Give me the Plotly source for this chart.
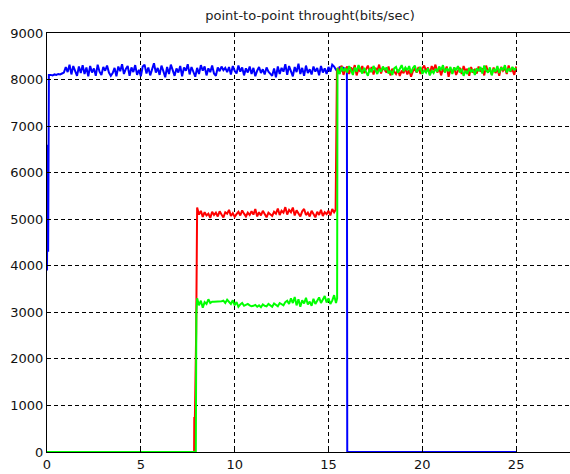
import numpy as np
import plotly.graph_objects as go

# ---------------- data ----------------
# blue flow
blue_start_t = [0.0, 0.03, 0.06, 0.1]
blue_start_v = [3900, 6600, 4300, 8100]
blue_noise_v = [
    8100, 8090, 8110, 8100, 8120, 8110, 8130, 8150,
    8270, 8160, 8320, 8110, 8290, 8190, 8080, 8280, 8140, 8310,
    8120, 8260, 8070, 8290, 8150, 8240, 8080, 8320, 8170, 8100,
    8270, 8190, 8300, 8150, 8080, 8140, 8250, 8070, 8280, 8180,
    8330, 8120, 8230, 8290, 8080, 8260, 8160, 8310, 8100, 8210,
    8070, 8280, 8320, 8130, 8260, 8090, 8210, 8350, 8150, 8250,
    8100, 8300, 8180, 8050, 8270, 8120, 8320, 8170, 8080, 8240,
    8150, 8290, 8070, 8260, 8190, 8330, 8110, 8270, 8170, 8060,
    8250, 8120, 8310, 8190, 8280, 8090, 8240, 8160, 8300, 8130,
    8080, 8260, 8180, 8280, 8200, 8250, 8160, 8270, 8110, 8290,
    8190, 8130, 8300, 8170, 8260, 8090, 8240, 8150, 8280, 8120,
    8250, 8070, 8190, 8270, 8140, 8220, 8110, 8260, 8170, 8130,
    8080, 8240, 8050, 8280, 8120, 8250, 8170, 8330, 8100, 8290,
    8190, 8070, 8270, 8160, 8340, 8120, 8250, 8080, 8300, 8140,
    8220, 8110, 8280, 8170, 8250, 8090, 8290, 8150, 8240, 8120,
    8270, 8170, 8320, 8280, 8210, 8160, 8280, 8200, 8250, 8230,
]
blue_noise_t = np.round(np.arange(0.2, 15.95, 0.1), 2).tolist()
blue_tail_t = [15.98, 16.0, 25.0]
blue_tail_v = [8200, 0, 0]

# red flow
red_start_t = [0.0, 7.84, 7.85, 7.87, 7.95, 7.97, 8.0]
red_start_v = [0, 0, 750, 450, 2600, 3900, 5250]
red_mid_v = [
    5100, 5180, 5050, 5150, 5080, 5120, 5030, 5160, 5090,
    5140, 5060, 5170, 5100, 5040, 5150, 5120, 5200, 5070, 5130,
    5050, 5110, 5160, 5080, 5190, 5120, 5060, 5140, 5090, 5170,
    5100, 5220, 5060, 5150, 5080, 5180, 5110, 5040, 5140, 5100,
    5070, 5160, 5120, 5230, 5090, 5180, 5140, 5260, 5100, 5200,
    5150, 5250, 5080, 5190, 5120, 5060, 5170, 5220, 5090, 5140,
    5060, 5180, 5110, 5040, 5160, 5090, 5200, 5070, 5150, 5110,
    5180, 5080, 5220, 5150,
]
red_mid_t = np.round(np.arange(8.1, 15.35, 0.1), 2).tolist()
red_jump_t = [15.38, 15.4, 15.45]
red_jump_v = [5200, 6300, 8200]
red_high_v = [
    8250, 8150, 8300, 8100, 8220,
    8280, 8120, 8260, 8180, 8310, 8090, 8240, 8170, 8290, 8140,
    8230, 8300, 8160, 8270, 8110, 8250, 8190, 8320, 8130, 8260,
    8200, 8150, 8280, 8090, 8230, 8170, 8120, 8210, 8080, 8190,
    8140, 8250, 8110, 8200, 8060, 8180, 8230, 8150, 8270, 8120,
    8240, 8300, 8180, 8260, 8110, 8290, 8200, 8320, 8150, 8250,
    8090, 8230, 8170, 8280, 8060, 8210, 8140, 8260, 8100, 8190,
    8250, 8120, 8290, 8180, 8230, 8080, 8270, 8150, 8210, 8130,
    8280, 8170, 8240, 8090, 8300, 8160, 8220, 8110, 8260, 8140,
    8230, 8080, 8270, 8190, 8250, 8120, 8300, 8170, 8220, 8100, 8280,
]
high_t = np.round(np.arange(15.5, 25.05, 0.1), 2).tolist()

# green flow
green_start_t = [0.0, 7.93, 7.96, 8.0]
green_start_v = [0, 0, 3000, 3300]
green_mid_v = [
    3150, 3250, 3100, 3220, 3180, 3280, 3200, 3230, 3230,
    3230, 3230, 3230, 3240, 3250, 3200, 3270, 3220, 3180, 3260,
    3150, 3220, 3120, 3170, 3200, 3140, 3160, 3180, 3150, 3130,
    3140, 3160, 3120, 3150, 3110, 3170, 3140, 3130, 3180, 3150,
    3120, 3190, 3160, 3130, 3200, 3170, 3150, 3220, 3250, 3180,
    3300, 3200, 3330, 3150, 3280, 3120, 3260, 3190, 3310, 3170,
    3230, 3140, 3290, 3180, 3250, 3320, 3200, 3280, 3350, 3210,
    3300, 3180, 3250, 3370, 3200,
]
green_mid_t = np.round(np.arange(8.1, 15.45, 0.1), 2).tolist()
green_jump_t = [15.46, 15.48]
green_jump_v = [3300, 8250]
green_high_v = [
    8200, 8120, 8270, 8180, 8240,
    8150, 8290, 8200, 8100, 8260, 8170, 8310, 8220, 8130, 8250,
    8180, 8080, 8240, 8160, 8290, 8200, 8120, 8230, 8170, 8280,
    8210, 8260, 8130, 8190, 8100, 8240, 8270, 8150, 8230, 8310,
    8180, 8260, 8200, 8290, 8140, 8250, 8300, 8160, 8220, 8270,
    8120, 8200, 8150, 8240, 8090, 8190, 8140, 8230, 8170, 8280,
    8200, 8310, 8150, 8240, 8180, 8270, 8120, 8260, 8200, 8290,
    8150, 8230, 8080, 8190, 8120, 8250, 8160, 8220, 8100, 8240,
    8180, 8270, 8130, 8300, 8200, 8150, 8260, 8090, 8230, 8170,
    8290, 8140, 8260, 8200, 8310, 8150, 8240, 8180, 8270, 8210, 8250,
]

x_ticks = [0, 5, 10, 15, 20, 25]
y_ticks = [0, 1000, 2000, 3000, 4000, 5000, 6000, 7000, 8000, 9000]
title_text = "point-to-point throught(bits/sec)"

# ---------------- figure ----------------
blue_t = blue_start_t + blue_noise_t + blue_tail_t
blue_v = blue_start_v + blue_noise_v + blue_tail_v
red_t = red_start_t + red_mid_t + red_jump_t + high_t
red_v = red_start_v + red_mid_v + red_jump_v + red_high_v
green_t = green_start_t + green_mid_t + green_jump_t + high_t
green_v = green_start_v + green_mid_v + green_jump_v + green_high_v

fig = go.Figure()
for t, v, c in [(blue_t, blue_v, "#0000FF"), (red_t, red_v, "#FF0000"), (green_t, green_v, "#00FF00")]:
    fig.add_trace(go.Scatter(x=t, y=v, mode="lines", line=dict(color=c, width=2),
                             showlegend=False, hoverinfo="skip"))

axis_font = dict(family="DejaVu Sans", size=13, color="#111111")
fig.update_layout(
    width=570, height=474,
    margin=dict(l=47, r=0, t=33, b=22),
    paper_bgcolor="white", plot_bgcolor="white",
    title=dict(text=title_text, x=310 / 570, xanchor="center", y=1 - 15 / 474, yanchor="middle",
               font=dict(family="DejaVu Sans", size=13, color="#222222")),
    xaxis=dict(range=[0, 27.87], tickvals=x_ticks, ticktext=[str(v) for v in x_ticks],
               showline=True, linecolor="black", linewidth=1, mirror="ticks",
               ticks="inside", ticklen=4, tickcolor="black",
               showgrid=True, gridcolor="black", gridwidth=1, griddash="4px,3px",
               zeroline=False, tickfont=axis_font, fixedrange=True),
    yaxis=dict(range=[0, 9000], tickvals=y_ticks, ticktext=[str(v) for v in y_ticks],
               showline=True, linecolor="black", linewidth=1, mirror=False,
               ticks="inside", ticklen=4, tickcolor="black",
               showgrid=True, gridcolor="black", gridwidth=1, griddash="4px,3px",
               zeroline=False, tickfont=axis_font, fixedrange=True),
)
fig.write_html("out.html", config={"displayModeBar": False},
               post_script="document.body.style.margin='0';document.body.style.overflow='hidden';")
